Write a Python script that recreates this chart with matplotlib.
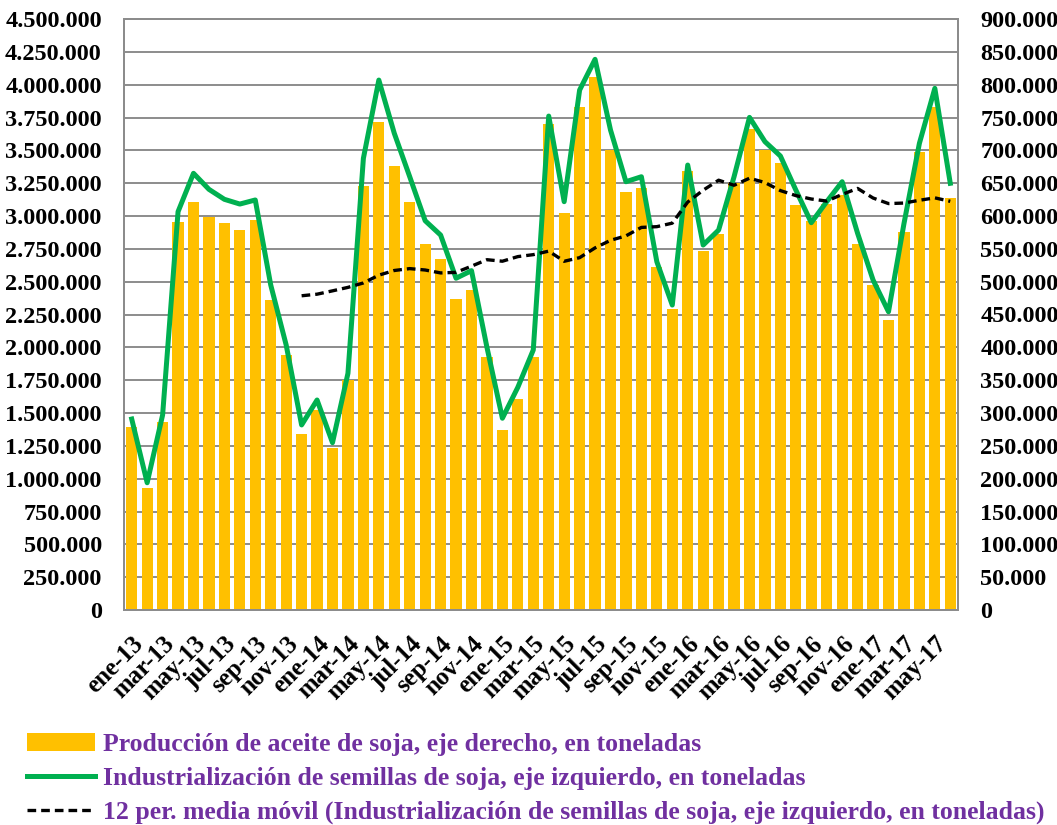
import matplotlib.pyplot as plt
import numpy as np
import pandas as pd
from matplotlib.ticker import FixedLocator, FuncFormatter

plt.rcParams["font.family"] = ["Liberation Serif", "DejaVu Serif"]
plt.rcParams["font.weight"] = "bold"

meses = ["ene", "feb", "mar", "abr", "may", "jun", "jul", "ago", "sep", "oct", "nov", "dic"]
fechas = [f"{m}-{a}" for a in range(13, 18) for m in meses][:54]

# producción de aceite de soja (eje derecho, toneladas)
produccion = [278000, 186000, 286000, 591000, 621000, 598000, 590000, 578000, 594000, 472000,
              389000, 268000, 305000, 247000, 351000, 645000, 743000, 676000, 621000, 557000,
              535000, 474000, 487000, 385000, 274000, 321000, 385000, 740000, 605000, 766000,
              811000, 701000, 636000, 642000, 522000, 458000, 668000, 547000, 572000, 650000,
              732000, 701000, 681000, 617000, 593000, 618000, 632000, 557000, 495000, 441000,
              576000, 698000, 766000, 628000]

# industrialización de semillas de soja (eje izquierdo, toneladas)
industrializacion = [1454000, 969000, 1485000, 3033000, 3325000, 3203000, 3127000, 3091000, 3122000, 2475000,
                     2018000, 1409000, 1599000, 1274000, 1802000, 3439000, 4035000, 3630000, 3299000, 2964000,
                     2855000, 2526000, 2584000, 2000000, 1460000, 1696000, 1980000, 3761000, 3109000, 3959000,
                     4193000, 3655000, 3261000, 3299000, 2652000, 2322000, 3388000, 2779000, 2893000, 3299000,
                     3751000, 3566000, 3457000, 3198000, 2949000, 3109000, 3261000, 2868000, 2513000, 2271000,
                     2941000, 3553000, 3972000, 3249000]

etiquetas = [
    "Producción de aceite de soja, eje derecho, en toneladas",
    "Industrialización de semillas de soja, eje izquierdo, en toneladas",
    "12 per. media móvil (Industrialización de semillas de soja, eje izquierdo, en toneladas)",
]

media_movil = pd.Series(industrializacion).rolling(12).mean()
x = np.arange(len(fechas))


def miles(v, pos=None):
    return f"{v:,.0f}".replace(",", ".")


fig = plt.figure(figsize=(10.57, 8.25), dpi=100)
ax = fig.add_axes([124 / 1057, 1 - 610 / 825, 834 / 1057, 591 / 825])
ax2 = ax.twinx()

gris = "#8c8c8c"
barras = ax2.bar(x, produccion, width=0.72, color="#FFC000", zorder=2)
ax2.set_ylim(0, 900000)
ax2.yaxis.set_major_locator(FixedLocator(np.arange(0, 900001, 50000)))
ax2.yaxis.set_major_formatter(FuncFormatter(miles))
ax2.grid(axis="y", color=gris, lw=1.4, zorder=0)
ax2.set_axisbelow(True)

linea, = ax.plot(x, industrializacion, color="#00B050", lw=3.6, zorder=3)
mm, = ax.plot(x, media_movil, color="black", lw=2.4, ls=(0, (2.6, 1.5)), zorder=4)
ax.set_ylim(0, 4500000)
ax.yaxis.set_major_locator(FixedLocator(np.arange(0, 4500001, 250000)))
ax.yaxis.set_major_formatter(FuncFormatter(miles))
ax.set_xlim(-0.5, len(fechas) - 0.5)
ax.set_xticks(x[::2])
ax.set_xticklabels(fechas[::2], rotation=45, ha="right", va="top", rotation_mode="anchor")

ax.set_zorder(ax2.get_zorder() + 1)
ax.patch.set_visible(False)

for a in (ax, ax2):
    for s in a.spines.values():
        s.set_color(gris)
        s.set_linewidth(1.4)
    a.tick_params(length=0, labelsize=17.5)
ax.tick_params(axis="y", pad=16)
ax.tick_params(axis="x", pad=16, labelsize=18)
ax2.tick_params(axis="y", pad=16)

fig.legend([barras, linea, mm], etiquetas, loc="upper left", bbox_to_anchor=(27 / 1057, 1 - 733 / 825),
           frameon=False, fontsize=18.5, labelcolor="#7030A0", handlelength=2.65, handletextpad=0.3,
           labelspacing=0.42, borderaxespad=0, borderpad=0)

plt.savefig("out.png", dpi=100)
plt.close()
